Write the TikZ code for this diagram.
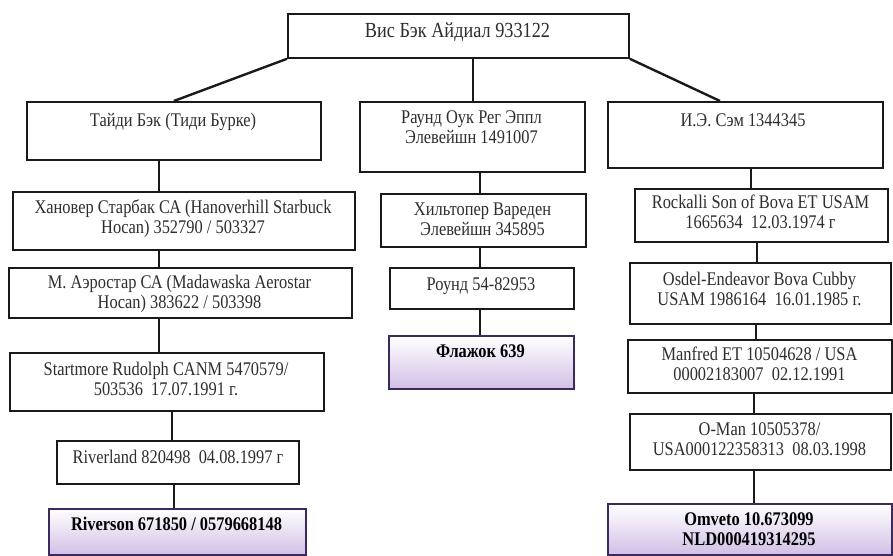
\documentclass[tikz,border=0pt]{standalone}
\usepackage{fontspec}
\setmainfont[FakeStretch=0.85]{Liberation Serif}
\definecolor{txt}{HTML}{2E2E2E}
\definecolor{edge}{HTML}{1A1A1A}
\definecolor{pedge}{HTML}{3A2A5E}
\definecolor{lav}{HTML}{D2BFE6}
\tikzset{
  box/.style={draw=edge, line width=1.8pt, fill=white, inner sep=0pt, anchor=north west},
  pbox/.style={draw=pedge, line width=1.9pt, inner sep=0pt, anchor=north west,
    shade, shading=axis, shading angle=30, top color=white, middle color=white, bottom color=lav},
  lbl/.style={text=txt, align=center, inner sep=0pt, anchor=center,
    font=\fontsize{19.3}{20}\selectfont,
    execute at begin node=\strut, execute at end node=\strut},
  blbl/.style={lbl, font=\fontsize{19.3}{20}\selectfont\bfseries, text=black},
  conn/.style={draw=edge, line width=1.6pt},
  diag/.style={draw=edge, line width=2.4pt},
}
\newcommand{\bx}[6][box]{% style, name, x1, y1, x2, y2
  \node[#1, minimum width={(#5)-(#3)}, minimum height={(#6)-(#4)}] (#2) at (#3,#4) {};}
\begin{document}
\begin{tikzpicture}[x=1pt,y=-1pt]
\useasboundingbox (0,0) rectangle (893,556);

% boxes
\bx{root}{287}{13}{628}{57}
\bx{taidi}{26}{101}{320}{159}
\bx{raund}{359}{101}{584}{171}
\bx{ie}{607}{101}{882}{167}
\bx{hanover}{12}{191}{354}{249}
\bx{aero}{8}{267}{351}{317}
\bx{start}{9}{352}{323}{410}
\bx{riverland}{56}{440}{298}{483}
\bx[pbox]{riverson}{48}{508}{305}{554}
\bx{hilt}{380}{193}{585}{246}
\bx{round}{389}{267}{573}{308}
\bx[pbox]{flag}{388}{335}{573}{388}
\bx{rock}{634}{188}{887}{241}
\bx{osdel}{629}{262}{890}{323}
\bx{manf}{627}{339}{891}{392}
\bx{oman}{629}{413}{890}{469}
\bx[pbox]{omveto}{607}{503}{891}{554}

% texts
\node[lbl, font=\fontsize{21.5}{22}\selectfont] (rootT) at (457.5,33) {Вис Бэк Айдиал 933122};
\node[lbl] (taidiT) at (173,123) {Тайди Бэк (Тиди Бурке)};
\node[lbl] (raundT) at (471.5,130) {Раунд Оук Рег Эппл\\Элевейшн 1491007};
\node[lbl] (ieT) at (743,123) {И.Э. Сэм 1344345};
\node[lbl] (hanoverT) at (183,220) {Хановер Старбак СА (Hanoverhill Starbuck\\Hocan) 352790 / 503327};
\node[lbl] (aeroT) at (179.5,295) {М. Аэростар СА (Madawaska Aerostar\\Hocan) 383622 / 503398};
\node[lbl] (startT) at (166,382) {Startmore Rudolph CANM 5470579/\\503536~~17.07.1991 г.};
\node[lbl] (riverlandT) at (178,459) {Riverland 820498~~04.08.1997 г};
\node[blbl] (riversonT) at (176.5,526) {Riverson 671850 / 0579668148};
\node[lbl] (hiltT) at (482.5,222) {Хильтопер Вареден\\Элевейшн 345895};
\node[lbl] (roundT) at (481,286) {Роунд 54-82953};
\node[blbl] (flagT) at (480.5,353) {Флажок 639};
\node[lbl] (rockT) at (760.5,215) {Rockalli Son of Bova ET USAM\\1665634~~12.03.1974 г};
\node[lbl] (osdelT) at (759.5,292) {Osdel-Endeavor Bova Cubby\\USAM 1986164~~16.01.1985 г.};
\node[lbl] (manfT) at (759.5,367) {Manfred ET 10504628 / USA\\00002183007~~02.12.1991};
\node[lbl] (omanT) at (759.5,442) {O-Man 10505378/\\USA000122358313~~08.03.1998};
\node[blbl] (omvetoT) at (749,532) {Omveto 10.673099\\NLD000419314295};

% column x positions
\coordinate (xA) at (159,0);
\coordinate (xB) at (172,0);
\coordinate (xC) at (174,0);
\coordinate (xM) at (480,0);
\coordinate (xR1) at (751,0);
\coordinate (xR2) at (757,0);
\coordinate (xR3) at (756,0);
\coordinate (xR4) at (754,0);
\coordinate (xTop) at (473,0);
\coordinate (xIe) at (720,0);

% connectors from root
\draw[diag] (root.south west) -- (taidi.north);
\draw[conn] (root.south -| xTop) -- (raund.north -| xTop);
\draw[diag] (root.south east) -- (ie.north -| xIe);

% left column
\draw[conn] (taidi.south -| xA) -- (hanover.north -| xA);
\draw[conn] (hanover.south -| xA) -- (aero.north -| xA);
\draw[conn] (aero.south -| xA) -- (start.north -| xA);
\draw[conn] (start.south -| xB) -- (riverland.north -| xB);
\draw[conn] (riverland.south -| xC) -- (riverson.north -| xC);

% middle column
\draw[conn] (raund.south -| xM) -- (hilt.north -| xM);
\draw[conn] (hilt.south -| xM) -- (round.north -| xM);
\draw[conn] (round.south -| xM) -- (flag.north -| xM);

% right column
\draw[conn] (ie.south -| xR1) -- (rock.north -| xR1);
\draw[conn] (rock.south -| xR2) -- (osdel.north -| xR2);
\draw[conn] (osdel.south -| xR3) -- (manf.north -| xR3);
\draw[conn] (manf.south -| xR4) -- (oman.north -| xR4);
\draw[conn] (oman.south -| xR4) -- (omveto.north -| xR4);
\end{tikzpicture}
\end{document}
